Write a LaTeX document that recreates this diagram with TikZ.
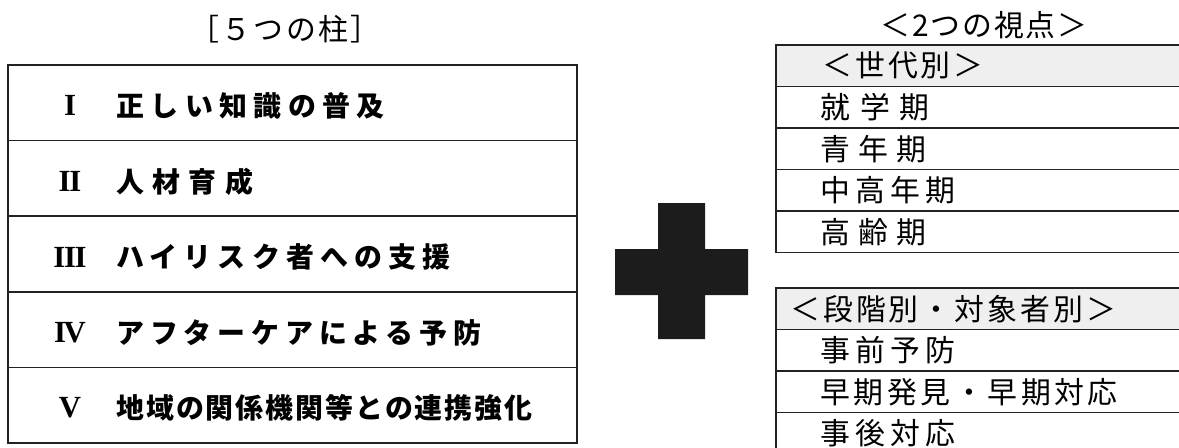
\documentclass[tikz,border=0pt]{standalone}
\usepackage{fontspec}
\setmainfont{Liberation Serif}
\newfontfamily\jpfont{Noto Sans CJK JP}
\usetikzlibrary{positioning}
\definecolor{headgray}{HTML}{EFEFEF}
\definecolor{plusblack}{HTML}{1C1C1C}
\definecolor{rule}{HTML}{222222}

\begin{document}
\begin{tikzpicture}[
  x=0.02cm, y=-0.02cm,
  pillar/.style={rectangle, draw=rule, line width=0.9pt, minimum width=11.38cm, minimum height=1.512cm, inner sep=0pt, outer sep=0pt},
  cell/.style={rectangle, draw=rule, line width=0.8pt, minimum width=8.7cm, minimum height=0.83cm, inner sep=0pt, outer sep=0pt},
  headcell/.style={cell, fill=headgray},
  numeral/.style={inner sep=0pt, font=\fontsize{17.5}{18}\selectfont\bfseries},
  pillartext/.style={anchor=west, inner sep=0pt, font=\fontsize{15.9}{16}\jpfont\bfseries\addfontfeature{LetterSpace=#1}},
  celltext/.style={anchor=west, inner sep=0pt, font=\fontsize{17}{17}\jpfont\addfontfeature{LetterSpace=#1}},
  heading/.style={inner sep=0pt, font=\fontsize{17}{17}\jpfont\addfontfeature{LetterSpace=#1}},
  node distance=0pt
]
\clip (0,0) rectangle (1179,447);

% [5つの柱]
\node[heading=8] (pillars) at (285,29) {［５つの柱］};
\node[pillar, anchor=north west] (p1) at (8,65) {};
\node[pillar, below=of p1] (p2) {};
\node[pillar, below=of p2] (p3) {};
\node[pillar, below=of p3] (p4) {};
\node[pillar, below=of p4] (p5) {};

\node[numeral] (n1) at ([xshift=1.24cm,yshift=-0.06cm]p1.west) {I};
\node[numeral] (n2) at ([xshift=1.24cm,yshift=-0.06cm]p2.west) {I\kern-0.8ptI};
\node[numeral] (n3) at ([xshift=1.24cm,yshift=-0.06cm]p3.west) {I\kern-0.8ptI\kern-0.8ptI};
\node[numeral] (n4) at ([xshift=1.24cm,yshift=-0.06cm]p4.west) {I\kern-1.5ptV};
\node[numeral] (n5) at ([xshift=1.24cm,yshift=-0.06cm]p5.west) {V};

\node[pillartext=23] (t1) at ([xshift=2.16cm,yshift=-0.06cm]p1.west) {正しい知識の普及};
\node[pillartext=30] (t2) at ([xshift=2.16cm,yshift=-0.06cm]p2.west) {人材育成};
\node[pillartext=22] (t3) at ([xshift=2.16cm,yshift=-0.06cm]p3.west) {ハイリスク者への支援};
\node[pillartext=21] (t4) at ([xshift=2.16cm,yshift=-0.06cm]p4.west) {アフターケアによる予防};
\node[pillartext=7] (t5) at ([xshift=2.16cm,yshift=-0.06cm]p5.west) {地域の関係機関等との連携強化};

% plus
\fill[plusblack] (658,203) -- (705,203) -- (705,249) -- (748,249) -- (748,295) -- (705,295)
  -- (705,339) -- (658,339) -- (658,295) -- (615,295) -- (615,249) -- (658,249) -- cycle;

% <2つの視点>
\node[heading=6] (views) at (984,25) {＜2つの視点＞};

\node[headcell, anchor=north west] (gen) at (776,45) {};
\node[cell, below=of gen] (g1) {};
\node[cell, below=of g1] (g2) {};
\node[cell, below=of g2] (g3) {};
\node[cell, below=of g3] (g4) {};

\node[celltext=10] at ([xshift=0.92cm]gen.west) {＜世代別＞};
\node[celltext=33] at ([xshift=0.88cm]g1.west) {就学期};
\node[celltext=27] at ([xshift=0.88cm]g2.west) {青年期};
\node[celltext=17] at ([xshift=0.88cm]g3.west) {中高年期};
\node[celltext=27] at ([xshift=0.88cm]g4.west) {高齢期};

\node[headcell, anchor=north west] (stage) at (776,288) {};
\node[cell, below=of stage] (s1) {};
\node[cell, below=of s1] (s2) {};
\node[cell, below=of s2] (s3) {};

\node[celltext=10] at ([xshift=0.28cm]stage.west) {＜段階別・対象者別＞};
\node[celltext=17] at ([xshift=0.88cm]s1.west) {事前予防};
\node[celltext=12] at ([xshift=0.88cm]s2.west) {早期発見・早期対応};
\node[celltext=17] at ([xshift=0.88cm]s3.west) {事後対応};
\end{tikzpicture}
\end{document}
